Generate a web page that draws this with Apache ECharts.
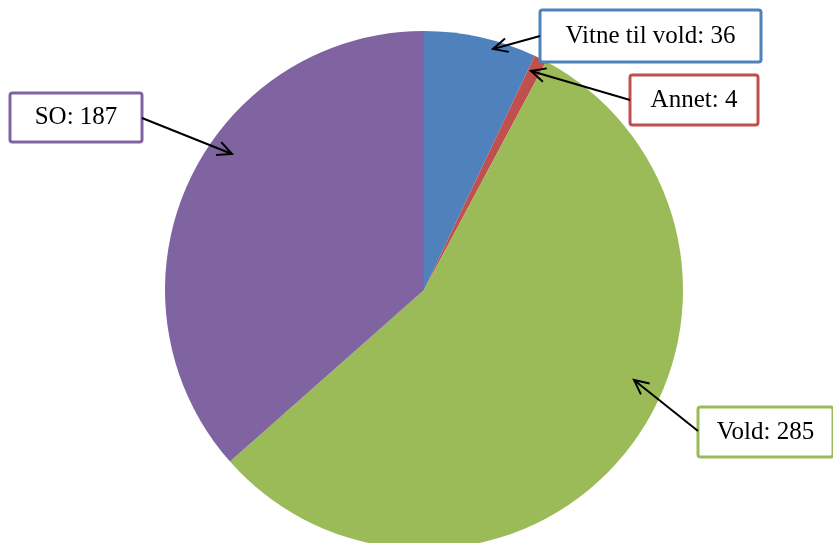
<!DOCTYPE html>
<html>
<head>
<meta charset="utf-8">
<script src="https://cdn.jsdelivr.net/npm/echarts@6/dist/echarts.min.js"></script>
<style>html,body{margin:0;padding:0;background:#fff;}#c{width:833px;height:543px;}</style>
</head>
<body>
<div id="c"></div>
<script>
const categories = ['Vitne til vold', 'Annet', 'Vold', 'SO'];
const values = [36, 4, 285, 187];
const colors = ['#4F81BD', '#C0504D', '#9BBB59', '#8064A2'];

// label box placement (center) and size
const boxes = [
  {cx: 650.5, cy: 36, w: 218, h: 49},
  {cx: 694, cy: 100, w: 125, h: 47},
  {cx: 765.5, cy: 432, w: 132, h: 47},
  {cx: 76, cy: 117.5, w: 129, h: 46}
];
// arrows: [from x, from y, tip x, tip y]
const arrows = [
  [540, 36, 493, 49],
  [630, 100, 531, 71],
  [142, 118, 232, 154],
  [698, 431, 634, 380]
];

function arrowGraphics() {
  const g = [];
  arrows.forEach(a => {
    const [x1, y1, x2, y2] = a;
    const ang = Math.atan2(y1 - y2, x1 - x2);
    const L = 16, spread = 0.45;
    const p1 = [x2 + L * Math.cos(ang + spread), y2 + L * Math.sin(ang + spread)];
    const p2 = [x2 + L * Math.cos(ang - spread), y2 + L * Math.sin(ang - spread)];
    g.push({type: 'polyline', z: 100, shape: {points: [[x1, y1], [x2, y2]]}, style: {stroke: '#000', lineWidth: 2}});
    g.push({type: 'polyline', z: 100, shape: {points: [p1, [x2, y2], p2]}, style: {stroke: '#000', lineWidth: 2, fill: null}});
  });
  return g;
}

const chart = echarts.init(document.getElementById('c'), null, {renderer: 'canvas'});
chart.setOption({
  animation: false,
  backgroundColor: '#fff',
  series: [{
    type: 'pie',
    center: [424, 290],
    radius: 259,
    startAngle: 90,
    clockwise: true,
    silent: true,
    data: categories.map((n, i) => ({
      name: n,
      value: values[i],
      itemStyle: {color: colors[i]},
      label: {
        width: boxes[i].w,
        height: boxes[i].h,
        borderColor: colors[i],
      }
    })),
    label: {
      show: true,
      formatter: '{b}: {c}',
      fontFamily: 'Liberation Serif',
      fontSize: 25,
      color: '#000',
      backgroundColor: '#fff',
      borderWidth: 3,
      borderRadius: 1,
      align: 'center',
      verticalAlign: 'middle',
      lineHeight: 47
    },
    labelLine: {show: false},
    labelLayout: function (p) {
      let idx = categories.findIndex(c => (p.text || '').indexOf(c + ':') === 0);
      if (idx < 0) idx = p.dataIndex;
      const b = boxes[idx];
      return {x: b.cx, y: b.cy, align: 'center', verticalAlign: 'middle', hideOverlap: false, moveOverlap: null};
    }
  }],
  graphic: arrowGraphics()
});
</script>
</body>
</html>
